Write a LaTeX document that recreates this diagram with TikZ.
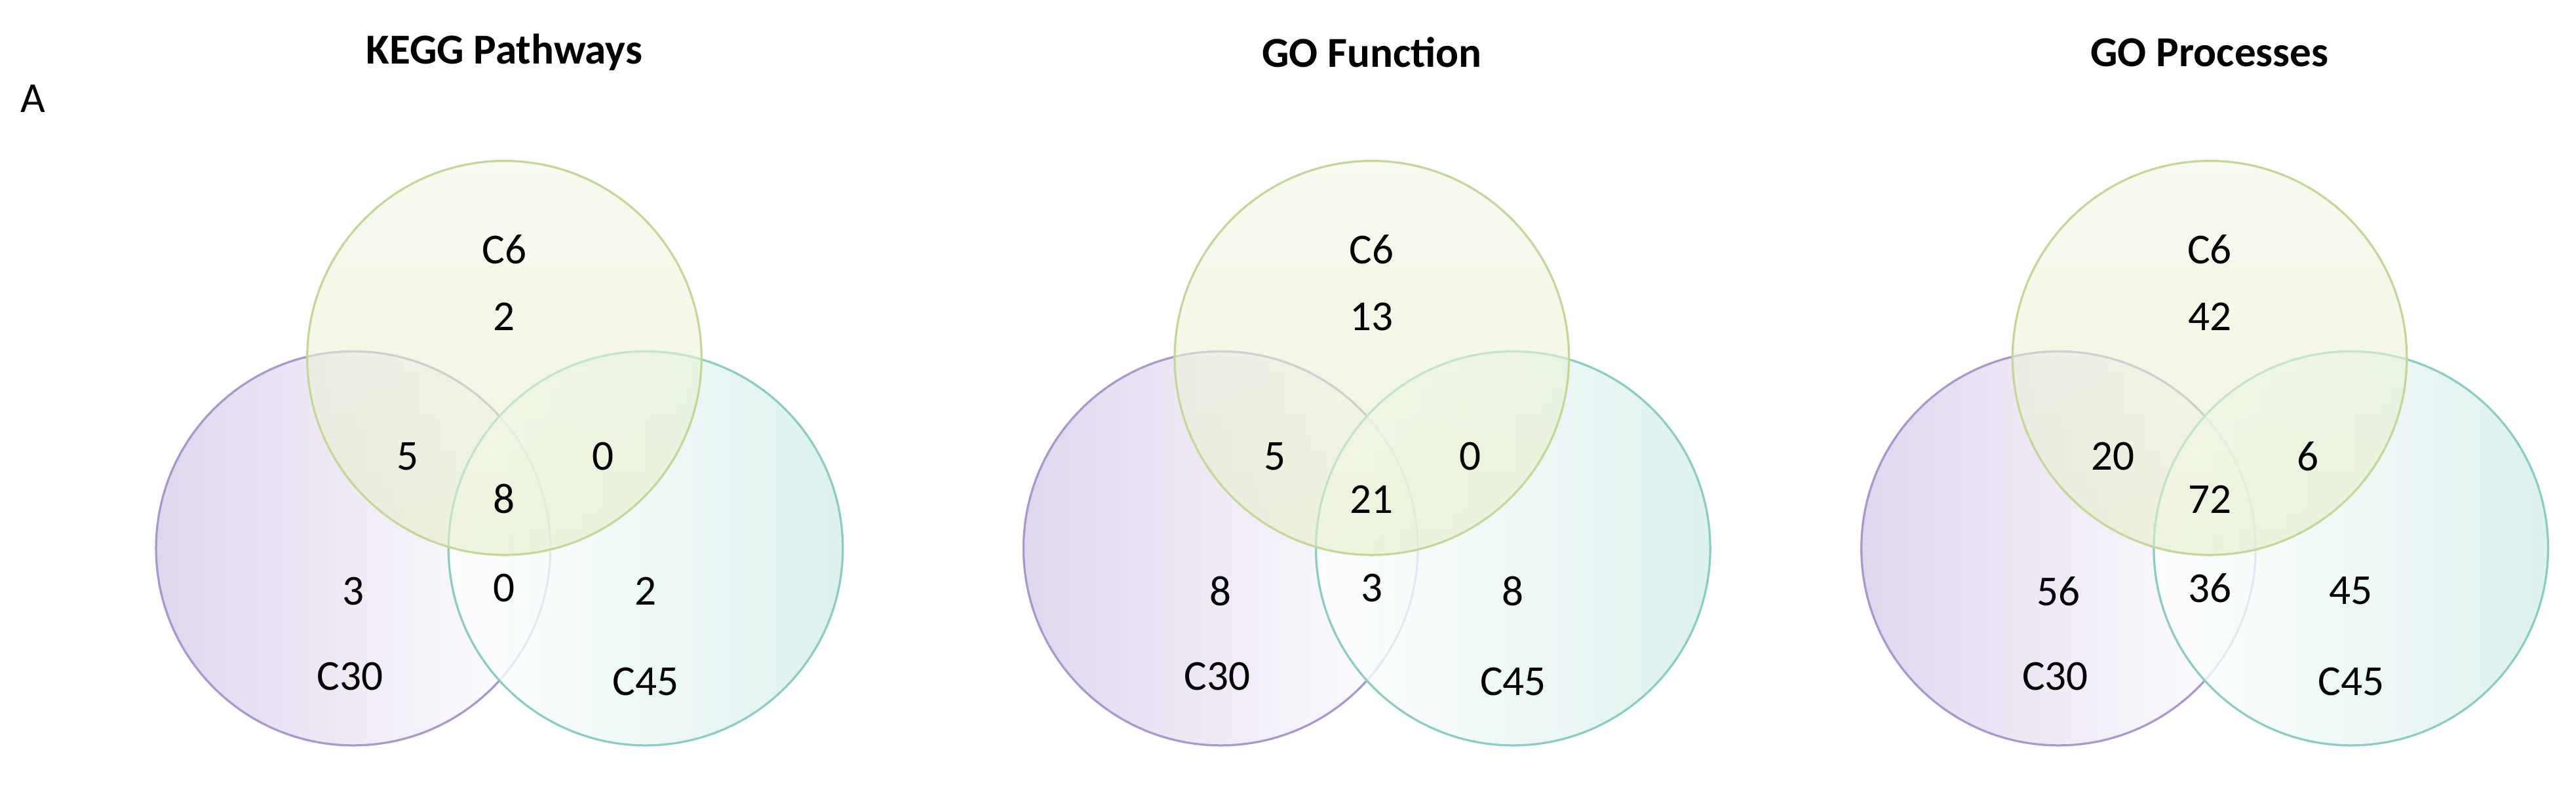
\documentclass[tikz,border=0pt]{standalone}
\usepackage{fontspec}
\setmainfont{Carlito}
\definecolor{lv}{HTML}{E0D6EE}\definecolor{lve}{HTML}{A899CC}
\definecolor{gt}{HTML}{F1F6E3}\definecolor{gb}{HTML}{E4EFC8}\definecolor{ge}{HTML}{C3D79A}
\definecolor{tl}{HTML}{D4EEEA}\definecolor{tle}{HTML}{8ECCC2}
\begin{document}
\begin{tikzpicture}[x=1pt,y=-1pt,
  vc/.style={circle,minimum size=240pt,inner sep=0pt,line width=1.3pt},
  topc/.style={vc,draw=ge,top color=gt,bottom color=gb,fill opacity=0.6},
  leftc/.style={vc,draw=lve,left color=lv,right color=white},
  rightc/.style={vc,draw=tle,left color=white,right color=tl,fill opacity=0.8},
  lab/.style={font=\fontsize{26}{30}\selectfont},
  ttl/.style={font=\bfseries\fontsize{26}{30}\selectfont}]
\useasboundingbox (0,0) rectangle (1568,481);
\node[lab] (A) at (20,60) {A};
\foreach \n/\t/\cx/\a/\b/\c/\d/\e/\f/\g in {k/KEGG Pathways/307/2/5/8/0/3/0/2, f/GO Function/835/13/5/21/0/8/3/8, p/GO Processes/1345/42/20/72/6/56/36/45}{
  \node[leftc] (\n L) at (\cx-92,334) {};
  \node[rightc] (\n R) at (\cx+86,334) {};
  \node[topc] (\n T) at (\cx,218) {};
  \node[ttl] (\n title) at (\cx,32) {\t};
  \node[lab] (\n c6) at (\cx,152) {C6};
  \node[lab] (\n a) at (\cx,193) {\a};
  \node[lab] (\n b) at (\cx-59,278) {\b};
  \node[lab] (\n c) at (\cx,304) {\c};
  \node[lab] (\n d) at (\cx+60,278) {\d};
  \node[lab] (\n e) at (\cx-92,360) {\e};
  \node[lab] (\n f) at (\cx,358) {\f};
  \node[lab] (\n g) at (\cx+86,360) {\g};
  \node[lab] (\n c30) at (\cx-94,412) {C30};
  \node[lab] (\n c45) at (\cx+86,415) {C45};
}
\end{tikzpicture}
\end{document}
